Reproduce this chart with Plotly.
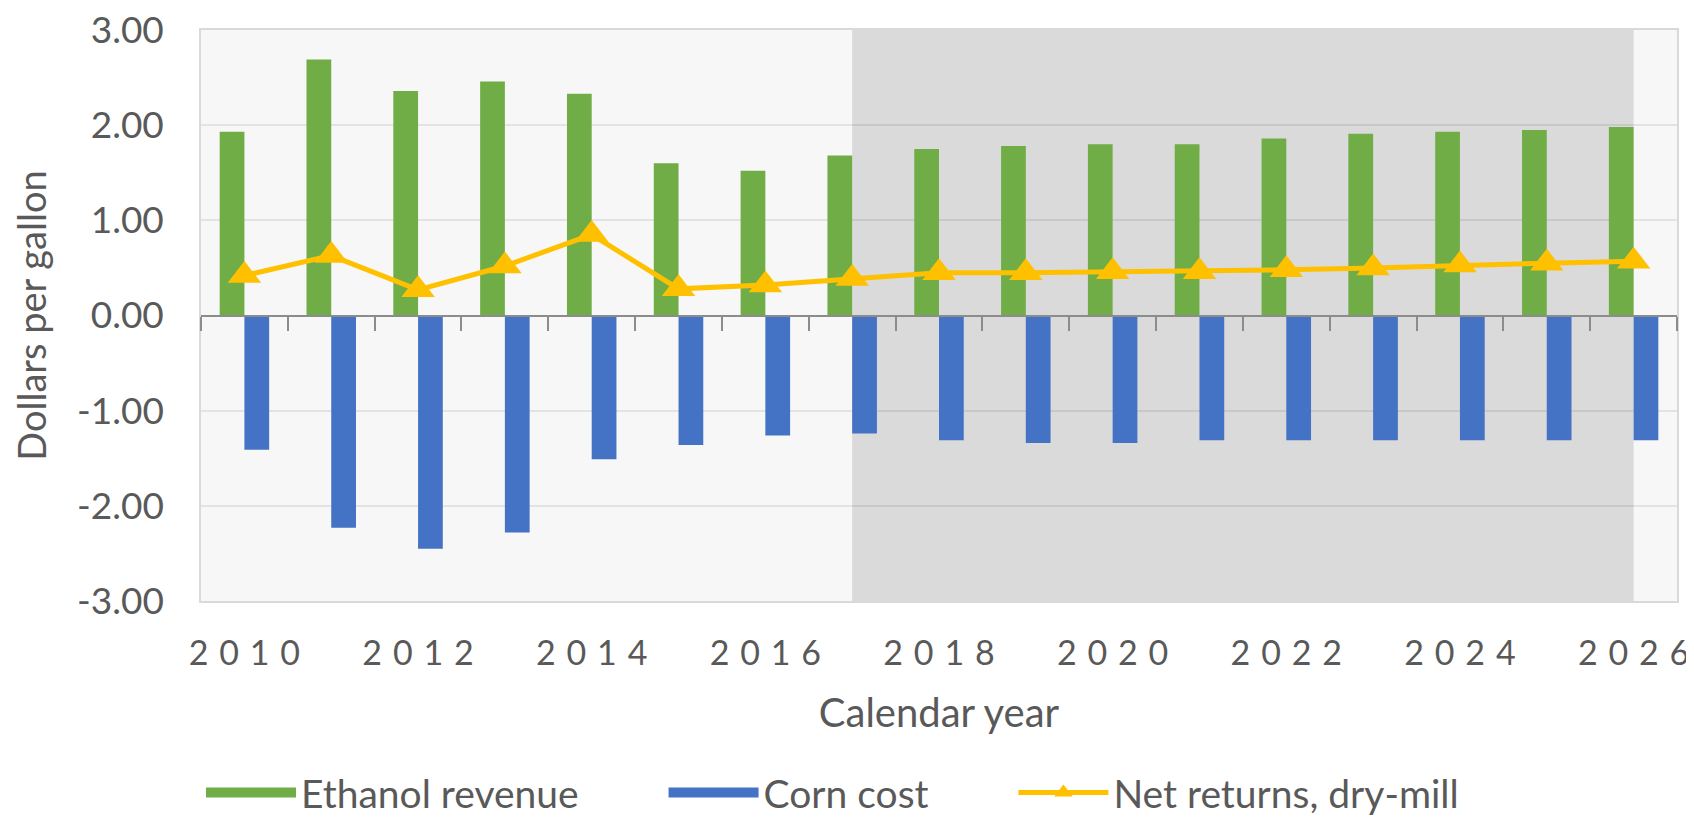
import plotly.graph_objects as go

years = list(range(2010, 2027))
ethanol_revenue = [1.93, 2.69, 2.36, 2.46, 2.33, 1.60, 1.52, 1.68, 1.75, 1.78,
                   1.80, 1.80, 1.86, 1.91, 1.93, 1.95, 1.98]
corn_cost = [-1.41, -2.23, -2.45, -2.28, -1.51, -1.36, -1.26, -1.24, -1.31, -1.34,
             -1.34, -1.31, -1.31, -1.31, -1.31, -1.31, -1.31]
net_returns = [0.42, 0.63, 0.27, 0.52, 0.85, 0.28, 0.32, 0.39, 0.45, 0.45,
               0.46, 0.46, 0.48, 0.50, 0.53, 0.55, 0.57]
label_years = years[::2]
y_ticks = [3, 2, 1, 0, -1, -2, -3]
projection_start, projection_end = 2017, 2026

font_family = 'Lato'
text_color = '#595959'
green, blue, gold = '#70ad47', '#4472c4', '#ffc000'
pad = '\u00a0' * 8  # gap between legend entries

fig = go.Figure()

fig.add_trace(go.Bar(x=years, y=ethanol_revenue, name='Ethanol revenue',
                     marker=dict(color=green, line=dict(width=0)), showlegend=False))
fig.add_trace(go.Bar(x=years, y=corn_cost, name='Corn cost',
                     marker=dict(color=blue, line=dict(width=0)), showlegend=False))
fig.add_trace(go.Scatter(x=years, y=net_returns, name='Net returns, dry-mill',
                         xaxis='x2', mode='lines+markers', showlegend=False,
                         line=dict(color=gold, width=5),
                         marker=dict(symbol='triangle-up', size=29, color=gold)))

# legend entries (wide swatches like the original)
fig.add_trace(go.Scatter(x=[None], y=[None], name='Ethanol revenue' + pad, mode='lines',
                         line=dict(color=green, width=18)))
fig.add_trace(go.Scatter(x=[None], y=[None], name='Corn cost' + pad, mode='lines',
                         line=dict(color=blue, width=18)))
fig.add_trace(go.Scatter(x=[None], y=[None], name='Net returns, dry-mill',
                         mode='lines+markers', line=dict(color=gold, width=5),
                         marker=dict(symbol='triangle-up', size=26, color=gold)))

# shaded projection period
fig.add_shape(type='rect', xref='x', yref='paper',
              x0=projection_start, x1=projection_end, y0=0, y1=1,
              fillcolor='#dadada', line_width=0, layer='below')

x_range = [years[0] - 0.5, years[-1] + 0.5]
boundaries = [y - 0.5 for y in years] + [years[-1] + 0.5]

# the page body adds an 8px offset, so the figure is 8px smaller
fig.update_layout(
    width=1686, height=809,
    margin=dict(l=193, r=17, t=22, b=216, autoexpand=False),
    paper_bgcolor='white',
    plot_bgcolor='#f7f7f7',
    barmode='group', bargap=0.43, bargroupgap=0,
    font=dict(family=font_family, color=text_color),
    showlegend=True,
    legend=dict(orientation='h', x=0, xanchor='left',
                yref='container', y=0.03, yanchor='middle',
                font=dict(size=39, color=text_color), traceorder='normal',
                itemwidth=90),
    xaxis=dict(range=x_range, tickmode='array', tickvals=label_years,
               ticktext=['\u00a0\u200a'.join(str(y)) for y in label_years],
               tickfont=dict(size=34, color=text_color), ticks='',
               ticklabelstandoff=21, ticklabeloverflow='allow', automargin=False,
               showgrid=False, zeroline=False,
               showline=True, linecolor='#d9d9d9', linewidth=1.5, mirror=True,
               title=dict(text='Calendar year', font=dict(size=40, color=text_color),
                          standoff=28)),
    xaxis2=dict(range=x_range, overlaying='x', anchor='free', position=0.5,
                tickmode='array', tickvals=boundaries, ticks='outside',
                ticklen=14, tickwidth=1.5, tickcolor='#8c8c8c',
                showticklabels=False, showgrid=False, zeroline=False,
                showline=True, linecolor='#8c8c8c', linewidth=2),
    yaxis=dict(range=[-3, 3], tickmode='array', tickvals=y_ticks,
               ticktext=['%.2f' % v for v in y_ticks],
               tickfont=dict(size=37, color=text_color),
               ticklabelstandoff=28, ticklabeloverflow='allow', automargin=False,
               showgrid=True, gridcolor='rgba(0,0,0,0.08)', gridwidth=1.5,
               zeroline=False,
               showline=True, linecolor='#d9d9d9', linewidth=1.5, mirror=True,
               title=dict(text='Dollars per gallon', font=dict(size=38, color=text_color),
                          standoff=22)),
)

fig.write_html("out.html")
